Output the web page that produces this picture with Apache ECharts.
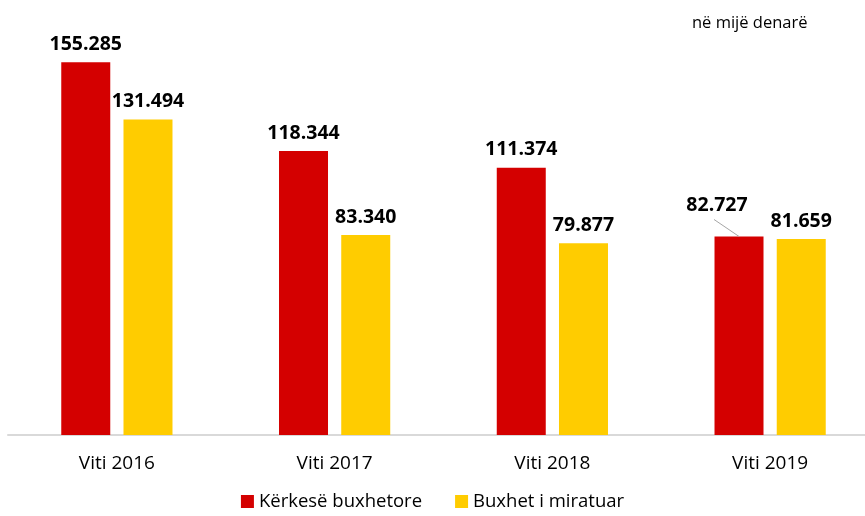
<!DOCTYPE html>
<html>
<head>
<meta charset="utf-8">
<script src="https://cdn.jsdelivr.net/npm/echarts@6/dist/echarts.min.js"></script>
<style>
  html, body { margin: 0; padding: 0; background: #ffffff; }
  #chart { width: 865px; height: 516px; }
</style>
</head>
<body>
<div id="chart"></div>
<script>
// Budget requests vs. approved budgets, thousands of denars
const categories = ['Viti 2016', 'Viti 2017', 'Viti 2018', 'Viti 2019'];
const requested = [155.285, 118.344, 111.374, 82.727];
const approved = [131.494, 83.340, 79.877, 81.659];
const seriesNames = ['Kërkesë buxhetore', 'Buxhet i miratuar'];
const unitNote = 'në mijë denarë';

const FONT = '"Open Sans", "DejaVu Sans", sans-serif';
const OFFSET_INDEX = 3; // the 2019 request label is pulled up-left with a leader line

function fmt(v) {
  return v.toFixed(3);
}

const chart = echarts.init(document.getElementById('chart'));

const valueLabel = {
  show: true,
  position: 'top',
  distance: 8,
  fontFamily: FONT,
  fontSize: 19.5,
  fontWeight: 'bold',
  color: '#000000',
  formatter: p => fmt(p.value)
};

function offsetLabelLayout(p) {
  if (p.dataIndex !== OFFSET_INDEX) return {};
  const r = p.rect;
  const cx = r.x + r.width / 2;
  return {
    x: cx - 22,
    y: r.y - 31,
    align: 'center',
    verticalAlign: 'middle'
  };
}

const baseGraphic = {
  id: 'unit-note',
  type: 'text',
  left: 692,
  top: 15,
  style: { text: unitNote, font: '16.5px ' + FONT, fill: '#000000' }
};

chart.setOption({
  animation: false,
  backgroundColor: '#ffffff',
  textStyle: { fontFamily: FONT },
  graphic: [baseGraphic],
  legend: {
    bottom: 0,
    left: 'center',
    itemWidth: 13,
    itemHeight: 13,
    itemGap: 33,
    icon: 'rect',
    textStyle: { fontFamily: FONT, fontSize: 18.5, color: '#000000' },
    data: seriesNames
  },
  grid: { left: 8, right: -14, top: 51, bottom: 81, containLabel: false, outerBoundsMode: 'none' },
  xAxis: {
    type: 'category',
    data: categories,
    axisLine: { show: true, lineStyle: { color: '#d9d9d9', width: 2 } },
    axisTick: { show: false },
    axisLabel: { fontFamily: FONT, fontSize: 19, color: '#000000', margin: 19 }
  },
  yAxis: {
    type: 'value',
    min: 0,
    max: 160,
    show: false,
    splitLine: { show: false }
  },
  series: [
    {
      name: seriesNames[0],
      type: 'bar',
      barWidth: 49,
      barGap: '27%',
      itemStyle: { color: '#d40000' },
      label: valueLabel,
      labelLayout: offsetLabelLayout,
      data: requested
    },
    {
      name: seriesNames[1],
      type: 'bar',
      barWidth: 49,
      itemStyle: { color: '#ffcc00' },
      label: valueLabel,
      data: approved
    }
  ]
});

// Leader line from the offset label down to the top centre of its bar,
// taken from the bar layout the library computed.
const barLayout = chart.getModel().getSeriesByIndex(0).getData().getItemLayout(OFFSET_INDEX);
if (barLayout) {
  const cx = barLayout.x + barLayout.width / 2;
  const top = Math.min(barLayout.y, barLayout.y + barLayout.height);
  chart.setOption({
    graphic: [baseGraphic, {
      id: 'leader-line',
      type: 'line',
      shape: { x1: cx - 25, y1: top - 17, x2: cx, y2: top },
      style: { stroke: '#a6a6a6', lineWidth: 1 },
      z: 10
    }]
  });
}
</script>
</body>
</html>
